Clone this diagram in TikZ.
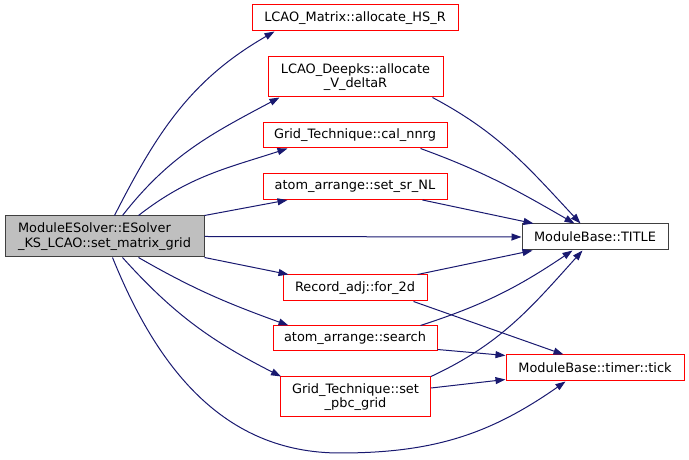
\documentclass[tikz,border=0pt]{standalone}
\usepackage{fontspec}
\setmainfont{DejaVu Sans}
\usepackage{tikz}
\usetikzlibrary{arrows.meta, positioning}
\usepackage{xcolor}
\definecolor{callblue}{RGB}{25,25,112}
\definecolor{calleered}{RGB}{255,0,0}
\definecolor{maingray}{RGB}{191,191,191}

\begin{document}
\begin{tikzpicture}[x=1pt, y=1pt,
    fn/.style={draw, line width=1pt, inner sep=0pt, align=center, font=\fontsize{12.9}{14.5}\selectfont},
    callee/.style={fn, draw=calleered},
    call/.style={draw=callblue, line width=1pt, -{Triangle[length=10pt, width=7pt]}}]
        \useasboundingbox (0,0) rectangle (689,460);
        % caller
        \node[fn, fill=maingray, draw=black!75, align=left, minimum width=199, minimum height=41] (main) at (104.5,223.5) {ModuleESolver::ESolver\\\_KS\_LCAO::set\_matrix\_grid};
        % direct callees
        \node[callee, minimum width=206, minimum height=26] (hsr) at (355,442) {LCAO\_Matrix::allocate\_HS\_R};
        \node[callee, minimum width=175, minimum height=40] (deltar) at (355.5,383) {LCAO\_Deepks::allocate\\\_V\_deltaR};
        \node[callee, minimum width=184, minimum height=25] (nnrg) at (355,324.5) {Grid\_Technique::cal\_nnrg};
        \node[callee, minimum width=184, minimum height=26] (srnl) at (355,273.5) {atom\_arrange::set\_sr\_NL};
        \node[callee, minimum width=144, minimum height=26] (for2d) at (355,172) {Record\_adj::for\_2d};
        \node[callee, minimum width=164, minimum height=25] (search) at (355,121.5) {atom\_arrange::search};
        \node[callee, minimum width=150, minimum height=40] (pbc) at (355.5,63) {Grid\_Technique::set\\\_pbc\_grid};
        % ModuleBase
        \node[fn, draw=black!75, minimum width=146, minimum height=26] (title) at (595,223) {ModuleBase::TITLE};
        \node[callee, minimum width=178, minimum height=26] (tick) at (595,92) {ModuleBase::timer::tick};
        % calls from set_matrix_grid
        \draw[call] ([xshift=110]main.north west) to[out=63, in=210] ([xshift=23]hsr.south west);
        \draw[call] ([xshift=118]main.north west) to[out=52, in=208] ([xshift=12]deltar.south west);
        \draw[call] ([xshift=134]main.north west) to[out=38, in=198] ([xshift=25]nnrg.south west);
        \draw[call] (main.north east) -- ([xshift=25]srnl.south west);
        \draw[call] (main.east) -- (title.west);
        \draw[call] (main.south east) -- ([xshift=6]for2d.north west);
        \draw[call] ([xshift=134]main.south west) to[out=-30, in=160] ([xshift=16]search.north west);
        \draw[call] ([xshift=118]main.south west) to[out=-48, in=153] ([xshift=1]pbc.north west);
        \coordinate (low) at (340,7);
        \draw[call] ([xshift=108]main.south west) to[out=-68, in=180] (low) to[out=0, in=215] ([xshift=60]tick.south west);
        % calls into ModuleBase
        \draw[call] ([xshift=-11]deltar.south east) to[out=-28, in=133] ([xshift=59]title.north west);
        \draw[call] ([xshift=-27]nnrg.south east) to[out=-20, in=150] ([xshift=53]title.north west);
        \draw[call] ([xshift=-25]srnl.south east) -- ([xshift=12]title.north west);
        \draw[call] ([xshift=-10]for2d.north east) -- ([xshift=11]title.south west);
        \draw[call] ([xshift=-14]for2d.south east) -- ([xshift=58]tick.north west);
        \draw[call] ([xshift=-17]search.north east) to[out=18, in=214] ([xshift=51]title.south west);
        \draw[call] ([yshift=2]search.south east) -- ([yshift=-1]tick.north west);
        \draw[call] (pbc.north east) to[out=25, in=228] ([xshift=61]title.south west);
        \draw[call] ([yshift=9]pbc.east) -- ([yshift=2]tick.south west);
      \end{tikzpicture}
\end{document}
